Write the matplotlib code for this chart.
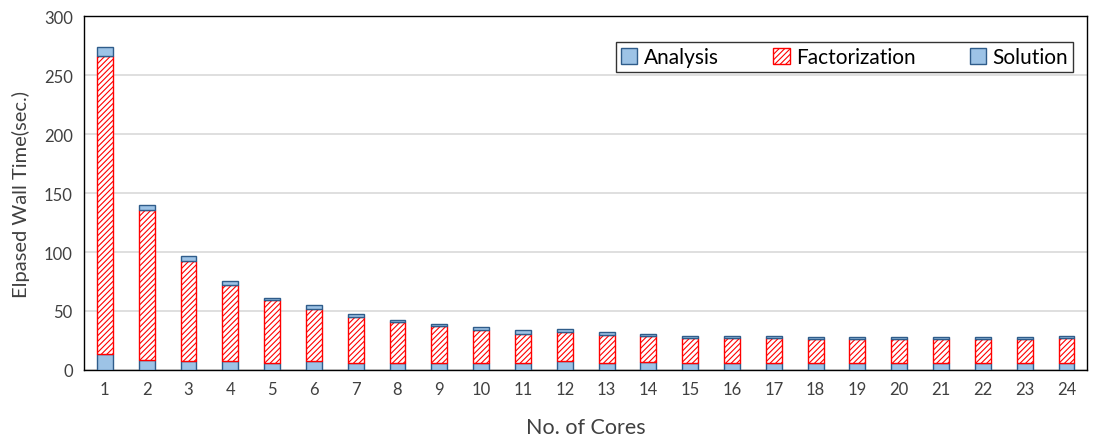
import matplotlib

matplotlib.use("Agg")
import matplotlib.pyplot as plt
import numpy as np

plt.rcParams["font.family"] = ["Lato", "DejaVu Sans"]
plt.rcParams["hatch.linewidth"] = 0.8

cores = list(range(1, 25))
analysis = [13.5, 8.5, 7.6, 7.5, 6, 7.5, 6, 6, 6, 6, 6, 7.5,
            6, 7, 6, 6, 6, 6, 6, 6, 6, 6, 6, 6]
factorization = [252.5, 127, 84.8, 64.5, 53.3, 44.2, 39, 34.7, 31.3, 28, 24.5, 24.7,
                 24, 21.5, 21, 21, 21, 20, 20, 20, 20, 20, 20, 21]
solution = [7.7, 4.4, 4.2, 3.4, 1.7, 3.3, 2.5, 1.7, 1.7, 2.4, 3.5, 2.5,
            2.2, 2.3, 2, 2, 2, 2, 2, 2, 2, 2, 2, 2]

blue = "#9DC3E6"
blue_edge = "#2F5C8A"
red = "#FF0000"

fig = plt.figure(figsize=(10.99, 4.39), dpi=100)
ax = fig.add_axes([0.0764, 0.155, 0.913, 0.806])

x = np.array(cores)
a = np.array(analysis)
f = np.array(factorization)
s = np.array(solution)
w = 0.38

ax.bar(x, a, width=w, color=blue, edgecolor=blue_edge, linewidth=1.0,
       label="Analysis", zorder=3)
ax.bar(x, f, width=w, bottom=a, color="white", edgecolor=red, hatch="//////",
       linewidth=1.0, label="Factorization", zorder=3)
ax.bar(x, s, width=w, bottom=a + f, color=blue, edgecolor=blue_edge, linewidth=1.0,
       label="Solution", zorder=3)

ax.set_xlim(0.5, 24.5)
ax.set_ylim(0, 300)
ax.set_yticks(range(0, 301, 50))
ax.set_xticks(x)
ax.yaxis.grid(True, color="#D9D9D9", linewidth=1.2, zorder=0)
ax.tick_params(axis="both", length=0, labelsize=12, labelcolor="#404040", pad=8)
for sp in ax.spines.values():
    sp.set_color("black")
    sp.set_linewidth(1.0)

ax.set_xlabel("No. of Cores", fontsize=15.5, color="#404040", labelpad=14)
ax.set_ylabel("Elpased Wall Time(sec.)", fontsize=14.5, color="#404040", labelpad=10)

leg = ax.legend(ncol=3, loc="upper right", bbox_to_anchor=(0.986, 0.927),
                borderaxespad=0, fontsize=15, frameon=True, fancybox=False,
                edgecolor="black", handlelength=0.8, handleheight=0.8,
                handletextpad=0.3, columnspacing=2.6, borderpad=0.25)
leg.get_frame().set_linewidth(1.0)
leg.set_zorder(5)

fig.savefig("out.png", dpi=100)
